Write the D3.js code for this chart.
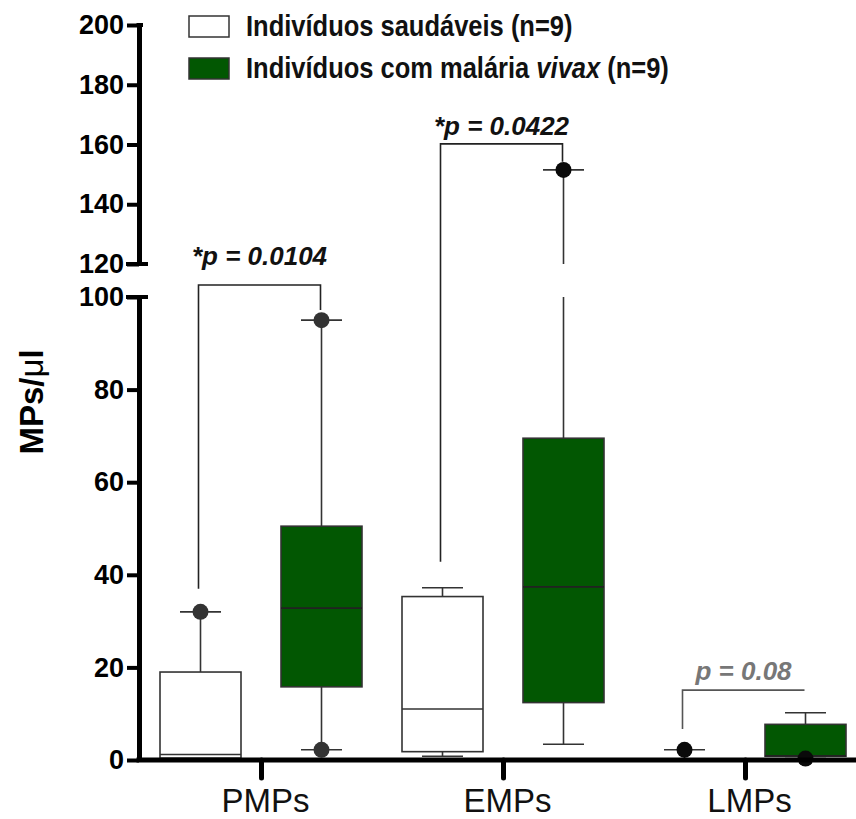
<!DOCTYPE html>
<html>
<head>
<meta charset="utf-8">
<script src="https://cdnjs.cloudflare.com/ajax/libs/d3/7.8.5/d3.min.js"></script>
<style>
  body { margin: 0; background: #fff; }
  svg { font-family: "Liberation Sans", Arial, sans-serif; }
</style>
</head>
<body>
<svg width="856" height="819"></svg>
<script>
// data
const categories = ["PMPs", "EMPs", "LMPs"];
const groups = ["Indivíduos saudáveis (n=9)", "Indivíduos com malária vivax (n=9)"];
// [min, q1, median, q3, max] per category
const healthy = [[0.2, 0.4, 1.2, 19, 32], [0.8, 1.8, 11, 35.3, 37.2], [0, 0, 0, 0, 2.2]];
const malaria = [[2.2, 15.8, 32.8, 50.5, 95], [3.4, 12.4, 37.4, 69.5, 151.5], [0.3, 0.8, 0.9, 7.7, 10.2]];
// points drawn at whisker ends
const points = [
  { cat: "PMPs", g: 0, v: 32 }, { cat: "PMPs", g: 1, v: 2.2 }, { cat: "PMPs", g: 1, v: 95 },
  { cat: "EMPs", g: 1, v: 151.5 },
  { cat: "LMPs", g: 0, v: 2.2 }, { cat: "LMPs", g: 1, v: 0.3 }
];
// significance brackets: level, leg ends (left, right), label
const brackets = [
  { cat: "PMPs", level: 107.3, left: 37, right: 97.2, label: "*p = 0.0104", color: "#111", dy: -20 },
  { cat: "EMPs", level: 160.2, left: 42.8, right: 154.2, label: "*p = 0.0422", color: "#111", dy: -9 },
  { cat: "LMPs", level: 15.1, left: 6.7, right: null, label: "p = 0.08", color: "#777", dy: -10 }
];
const lowTicks = [0, 20, 40, 60, 80, 100];
const highTicks = [120, 140, 160, 180, 200];

const svg = d3.select("svg");
const axisX = 139;
const green = "#025702";

const yLow = d3.scaleLinear().domain([0, 100]).range([760, 297]);
const yHigh = d3.scaleLinear().domain([120, 200]).range([264, 25]);
// full scale incl. the break gap
const y = d3.scaleLinear().domain([0, 100, 120, 200]).range([760, 297, 264, 25]);

const x = d3.scalePoint().domain(categories).range([261, 745]);
const sub = d3.scalePoint().domain([0, 1]).range([-60.5, 60.5]);
const boxW = 81, capW = 41;
const cx = (cat, g) => x(cat) + sub(g);

// whisker segment that skips the axis break
function vseg(g, xx, v1, v2) {
  const lo = Math.min(v1, v2), hi = Math.max(v1, v2);
  const parts = [];
  if (lo < 100) parts.push([lo, Math.min(hi, 100)]);
  if (hi > 120) parts.push([Math.max(lo, 120), hi]);
  parts.forEach(p => g.append("line")
    .attr("x1", xx).attr("x2", xx)
    .attr("y1", y(p[0])).attr("y2", y(p[1])));
}

// boxes
const boxes = [];
categories.forEach((c, i) => {
  boxes.push({ cat: c, g: 0, s: healthy[i] });
  boxes.push({ cat: c, g: 1, s: malaria[i] });
});

const boxG = svg.append("g").attr("stroke", "#333").attr("stroke-width", 1.6);
boxes.forEach(b => {
  const xx = cx(b.cat, b.g);
  const [mn, q1, md, q3, mx] = b.s;
  vseg(boxG, xx, q3, mx);
  vseg(boxG, xx, mn, q1);
  [mn, mx].forEach(v => boxG.append("line")
    .attr("x1", xx - capW / 2).attr("x2", xx + capW / 2)
    .attr("y1", y(v)).attr("y2", y(v)));
  boxG.append("rect")
    .attr("x", xx - boxW / 2).attr("width", boxW)
    .attr("y", y(q3)).attr("height", Math.max(0, y(q1) - y(q3)))
    .attr("fill", b.g ? green : "#fff");
  boxG.append("line")
    .attr("x1", xx - boxW / 2).attr("x2", xx + boxW / 2)
    .attr("y1", y(md)).attr("y2", y(md))
    .attr("stroke", b.g ? "#222" : "#333");
});

// points
svg.selectAll(".pt")
  .data(points)
  .enter()
  .append("circle")
  .attr("class", "pt")
  .attr("cx", d => cx(d.cat, d.g))
  .attr("cy", d => y(d.v))
  .attr("r", 8)
  .attr("fill", d => d.cat === "PMPs" ? "#333" : "#0a0a0a");

// brackets
brackets.forEach(b => {
  const x1 = cx(b.cat, 0) - 2, x2 = cx(b.cat, 1) - 1;
  const by = y(b.level);
  let d = `M${x1},${y(b.left)}V${by}H${x2}`;
  if (b.right !== null) d += `V${y(b.right)}`;
  svg.append("path").attr("d", d)
    .attr("fill", "none").attr("stroke", b.color === "#777" ? "#555" : "#222")
    .attr("stroke-width", 1.6);
  svg.append("text")
    .attr("x", (x1 + x2) / 2).attr("y", by + b.dy)
    .attr("text-anchor", "middle")
    .style("font-size", "26px").style("font-weight", "bold").style("font-style", "italic")
    .attr("fill", b.color)
    .text(b.label);
});

// y axis, two segments
function styleAxis(g) {
  g.select(".domain").attr("stroke", "#000").attr("stroke-width", 5);
  g.selectAll(".tick line").attr("stroke", "#000").attr("stroke-width", 4);
  g.selectAll(".tick text")
    .attr("fill", "#000")
    .style("font-size", "27px").style("font-weight", "bold")
    .style("font-family", "'Liberation Sans', Arial, sans-serif");
}
svg.append("g")
  .attr("transform", `translate(${axisX},0)`)
  .call(d3.axisLeft(yLow).tickValues(lowTicks).tickSize(12).tickSizeOuter(0).tickPadding(3))
  .call(styleAxis);
svg.append("g")
  .attr("transform", `translate(${axisX},0)`)
  .call(d3.axisLeft(yHigh).tickValues(highTicks).tickSize(12).tickSizeOuter(0).tickPadding(3))
  .call(styleAxis);
// break marks
[yHigh(120), yLow(100)].forEach(v => svg.append("line")
  .attr("x1", axisX - 13).attr("x2", axisX + 9)
  .attr("y1", v).attr("y2", v)
  .attr("stroke", "#000").attr("stroke-width", 4));
svg.append("line")
  .attr("x1", axisX - 2.5).attr("x2", axisX + 4)
  .attr("y1", yHigh(200)).attr("y2", yHigh(200))
  .attr("stroke", "#000").attr("stroke-width", 4);

// x axis
const xAxis = svg.append("g")
  .attr("transform", "translate(0,760)")
  .call(d3.axisBottom(x).tickSize(18).tickSizeOuter(0).tickPadding(11));
xAxis.select(".domain").attr("d", `M${axisX - 2.5},0H856`).attr("stroke", "#000").attr("stroke-width", 5);
xAxis.selectAll(".tick line").attr("stroke", "#000").attr("stroke-width", 5).attr("stroke-linecap", "round");
xAxis.selectAll(".tick text")
  .attr("fill", "#111")
  .attr("dx", 4)
  .style("font-size", "33px")
  .style("font-family", "'Liberation Sans', Arial, sans-serif");

// y title
svg.append("text")
  .attr("transform", "translate(43,402) rotate(-90)")
  .attr("text-anchor", "middle")
  .style("font-size", "33px").style("font-weight", "bold")
  .html('MPs/<tspan style="font-weight:normal">μ</tspan>l');

// legend
const leg = svg.append("g");
groups.forEach((g, i) => {
  leg.append("rect")
    .attr("x", 189).attr("y", 16 + i * 42)
    .attr("width", 40).attr("height", 21)
    .attr("fill", i ? green : "#fff")
    .attr("stroke", "#333").attr("stroke-width", 1.5);
  const t = leg.append("text")
    .attr("transform", `translate(246,${36 + i * 42}) scale(0.85,1)`)
    .style("font-size", "30px").style("font-weight", "bold")
    .attr("fill", "#111");
  if (i === 0) {
    t.text(g);
  } else {
    const [a, rest] = g.split("vivax");
    t.append("tspan").text(a);
    t.append("tspan").style("font-style", "italic").text("vivax");
    t.append("tspan").text(rest);
  }
});
</script>
</body>
</html>
